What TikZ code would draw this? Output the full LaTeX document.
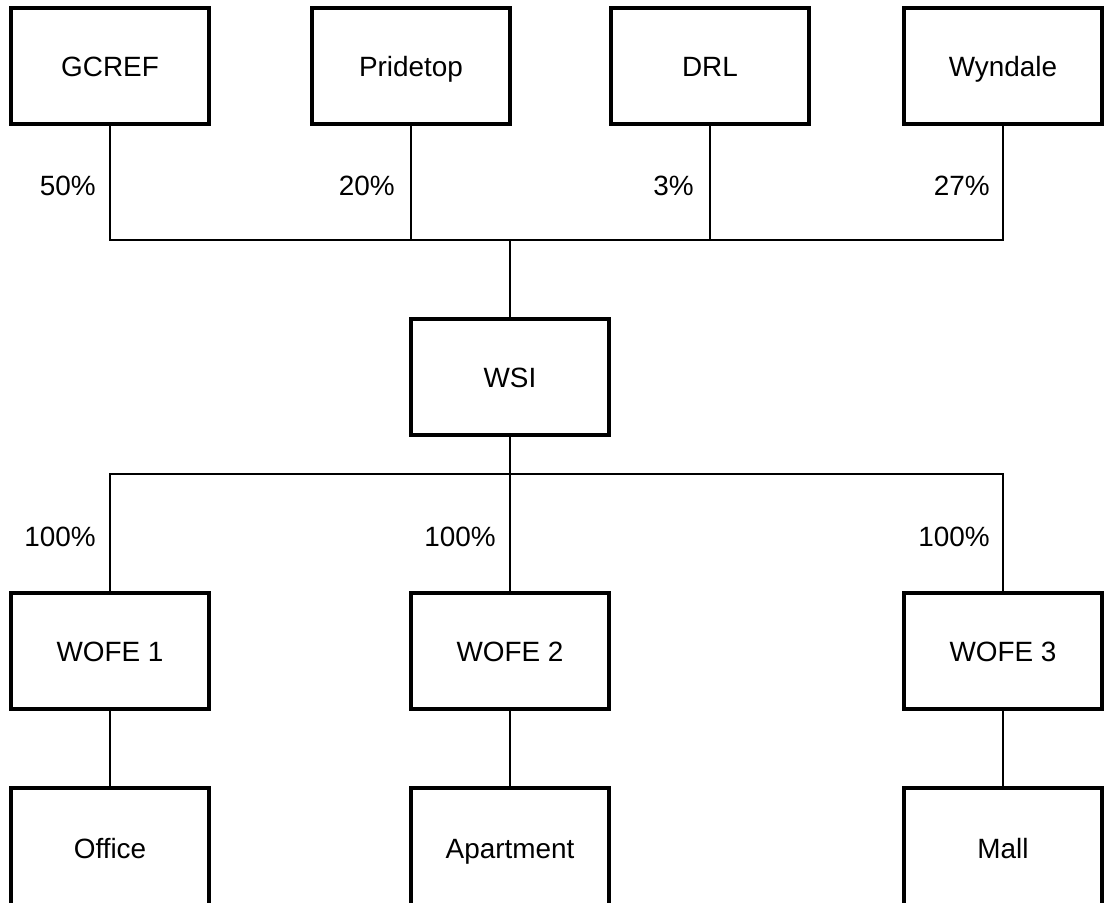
\documentclass[tikz,border=0pt]{standalone}
\usepackage{fontspec}
\setmainfont{Liberation Sans}
\begin{document}
\begin{tikzpicture}[x=1bp,y=-1bp,
  entity/.style={draw=black, line width=4bp, minimum width=198bp, minimum height=116bp,
     inner sep=0pt, text height=20bp, text depth=0pt, font=\fontsize{28}{34}\selectfont},
  openbox/.style={entity, minimum height=120bp},
  conn/.style={draw=black, line width=2bp},
  pct/.style={anchor=east, inner sep=0pt, text height=20bp, text depth=0pt, font=\fontsize{28}{34}\selectfont}]
\useasboundingbox (0,0) rectangle (1104,903);
\clip (0,0) rectangle (1104,903);
% top row
\node[entity] (g)  at (110,66)  {GCREF};
\node[entity] (p)  at (411,66)  {Pridetop};
\node[entity] (d)  at (710,66)  {DRL};
\node[entity] (wy) at (1003,66) {Wyndale};
% middle
\node[entity] (wsi) at (510,377) {WSI};
% WOFE row
\node[entity] (w1) at (110,651) {WOFE 1};
\node[entity] (w2) at (510,651) {WOFE 2};
\node[entity] (w3) at (1003,651) {WOFE 3};
% bottom row (cut off by the page edge)
\node[openbox] (o)  at (110,848)  {Office};
\node[openbox] (a)  at (510,848)  {Apartment};
\node[openbox] (m)  at (1003,848) {Mall};
% connectors
\coordinate (tb) at (510,240);
\coordinate (bb) at (510,474);
\draw[conn] (g.south) -- (g.south |- tb) -- (wy.south |- tb) -- (wy.south);
\draw[conn] (p.south) -- (p.south |- tb);
\draw[conn] (d.south) -- (d.south |- tb);
\draw[conn] (tb) -- (wsi.north);
\draw[conn] (wsi.south) -- (bb);
\draw[conn] (w1.north) -- (w1.north |- bb) -- (w3.north |- bb) -- (w3.north);
\draw[conn] (w2.north) -- (w2.north |- bb);
\draw[conn] (w1.south) -- (o.north);
\draw[conn] (w2.south) -- (a.north);
\draw[conn] (w3.south) -- (m.north);
% percentages
\node[pct] (l50) at (96,185)  {50\%};
\node[pct] (l20) at (395,185) {20\%};
\node[pct] (l3)  at (694,185) {3\%};
\node[pct] (l27) at (990,185) {27\%};
\node[pct] (l1) at (96,536)  {100\%};
\node[pct] (l2) at (496,536) {100\%};
\node[pct] (l3b) at (990,536) {100\%};
\end{tikzpicture}
\end{document}
